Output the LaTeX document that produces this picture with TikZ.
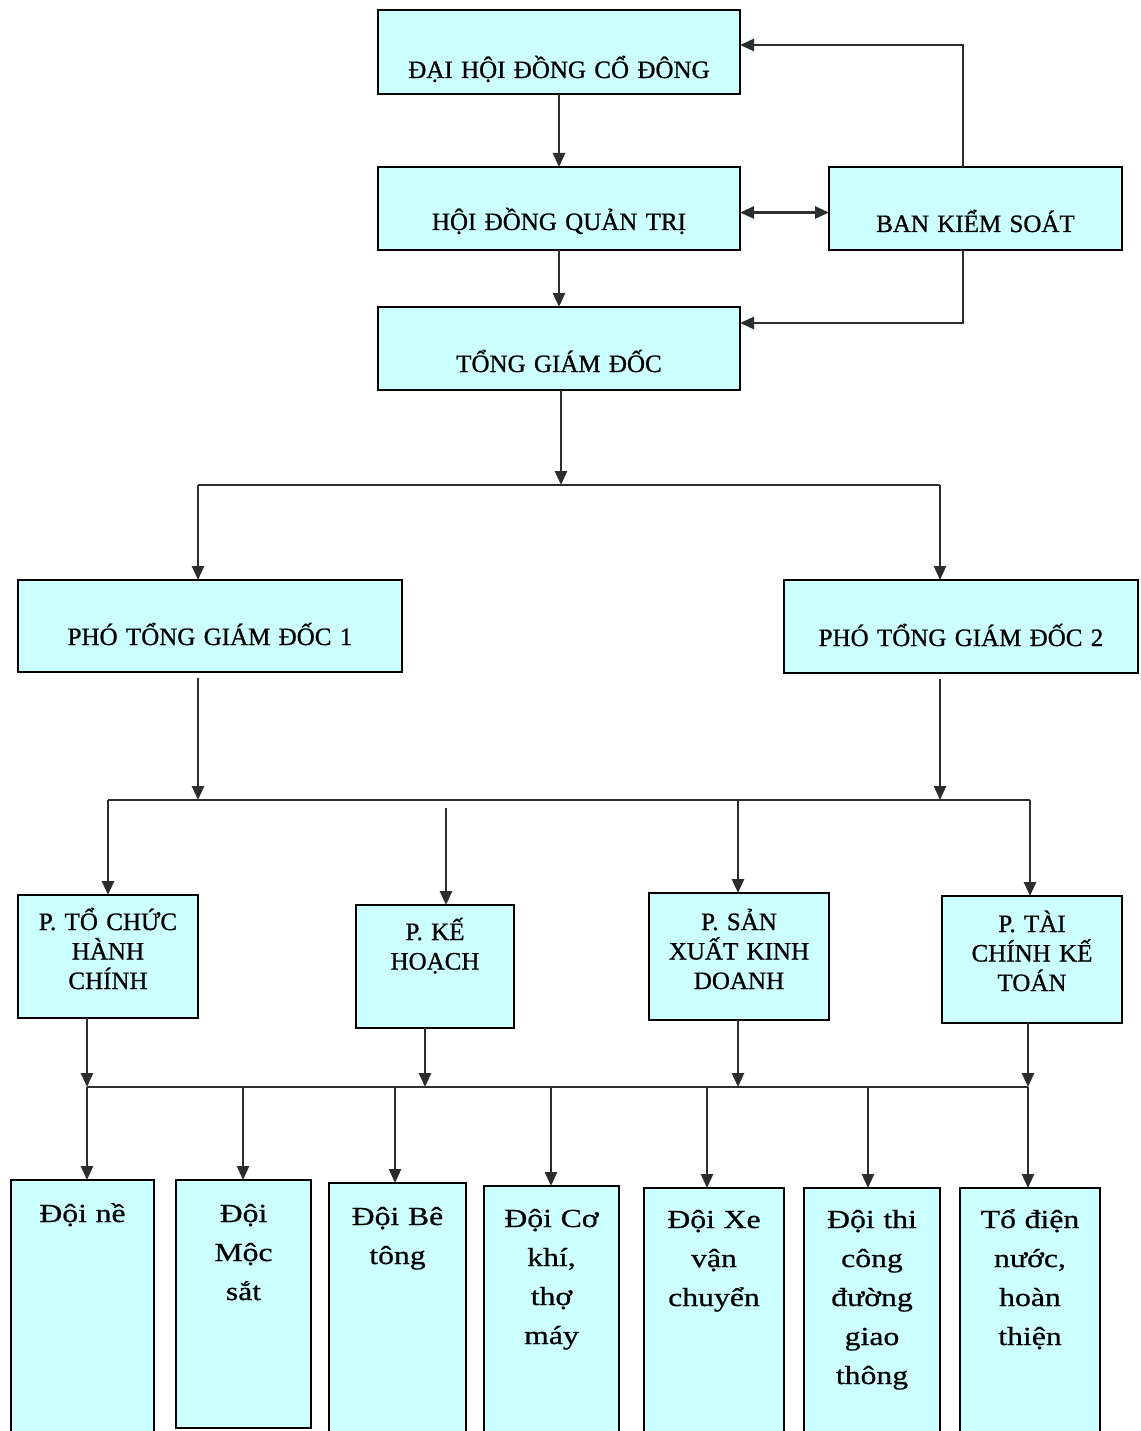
\documentclass[tikz,border=0pt]{standalone}
\usepackage{fontspec}
\setmainfont[FakeBold=0.9]{Liberation Serif}
\newfontfamily\capsserif[FakeBold=0.9]{Liberation Serif}
\newfontfamily\stretchserif[FakeStretch=1.22,FakeBold=0.7]{Liberation Serif}
\usetikzlibrary{arrows.meta}
\definecolor{boxfill}{RGB}{204,255,255}
\definecolor{connc}{RGB}{45,45,45}
\tikzset{
  orgbox/.style={draw=black, line width=2.6pt, fill=boxfill, inner sep=0pt, outer sep=0pt, align=center},
  capsfont/.style={font=\capsserif\fontsize{25}{29.5}\selectfont},
  lowfont/.style={font=\stretchserif\fontsize{26}{39}\selectfont},
  conn/.style={draw=connc, line width=2.6pt},
  arr/.style={conn, -{Triangle[length=14pt,width=12pt]}},
  darr/.style={conn, {Triangle[length=14pt,width=12pt]}-{Triangle[length=14pt,width=12pt]}}
}
% #1 style, #2 name, #3 x1, #4 y1, #5 x2, #6 y2, #7 first baseline, #8 text
\newcommand\orgnode[8]{%
  \pgfmathsetmacro\obw{#5-#3}\pgfmathsetmacro\obh{#7-#4}\pgfmathsetmacro\obd{#6-#7}%
  \node[orgbox,#1,anchor=north west,text width=\obw pt,text height=\obh pt,text depth=\obd pt] (#2) at (#3,-#4) {#8};}
\begin{document}
\begin{tikzpicture}[x=1pt,y=1pt]
\useasboundingbox (0,0) rectangle (1140,-1431);
\clip (0,0) rectangle (1140,-1431);
\fill[white] (0,0) rectangle (1140,-1431);

% top level
\orgnode{capsfont}{dh}{378}{10}{740}{94}{78}{ĐẠI HỘI ĐỒNG CỔ ĐÔNG}
\orgnode{capsfont}{hd}{378}{167}{740}{250}{230}{HỘI ĐỒNG QUẢN TRỊ}
\orgnode{capsfont}{bks}{829}{167}{1122}{250}{232}{BAN KIỂM SOÁT}
\orgnode{capsfont}{tgd}{378}{307}{740}{390}{372}{TỔNG GIÁM ĐỐC}
\orgnode{capsfont}{p1}{18}{580}{402}{672}{645}{PHÓ TỔNG GIÁM ĐỐC 1}
\orgnode{capsfont}{p2}{784}{580}{1138}{673}{646}{PHÓ TỔNG GIÁM ĐỐC 2}

% departments
\orgnode{capsfont}{tc}{18}{895}{198}{1018}{930}{P. TỔ CHỨC\\HÀNH\\CHÍNH}
\orgnode{capsfont}{kh}{356}{905}{514}{1028}{940}{P. KẾ\\HOẠCH}
\orgnode{capsfont}{sx}{649}{893}{829}{1020}{930}{P. SẢN\\XUẤT KINH\\DOANH}
\orgnode{capsfont}{tk}{942}{896}{1122}{1023}{932}{P. TÀI\\CHÍNH KẾ\\TOÁN}

% teams
\orgnode{lowfont}{d1}{11}{1180}{154}{1445}{1222}{Đội nề}
\orgnode{lowfont}{d2}{176}{1180}{311}{1428}{1222}{Đội\\Mộc\\sắt}
\orgnode{lowfont}{d3}{329}{1183}{466}{1445}{1225}{Đội Bê\\tông}
\orgnode{lowfont}{d4}{484}{1186}{619}{1445}{1227}{Đội Cơ\\khí,\\thợ\\máy}
\orgnode{lowfont}{d5}{644}{1188}{784}{1445}{1228}{Đội Xe\\vận\\chuyển}
\orgnode{lowfont}{d6}{804}{1188}{940}{1445}{1228}{Đội thi\\công\\đường\\giao\\thông}
\orgnode{lowfont}{d7}{960}{1188}{1100}{1445}{1228}{Tổ điện\\nước,\\hoàn\\thiện}

% upper connectors
\draw[arr] (dh.south) -- (hd.north);
\draw[arr] (hd.south) -- (tgd.north);
\draw[darr] ([yshift=-4pt]hd.east) -- ([yshift=-4pt]bks.west);
\coordinate (kx) at (963,-45);
\draw[arr] (bks.north -| kx) |- ([yshift=7pt]dh.east);
\draw[arr] (bks.south -| kx) |- ([yshift=25.5pt]tgd.east);

% bus 1
\coordinate (bus1L) at (198,-485);
\coordinate (bus1R) at (940,-485);
\coordinate (tgx) at (561,-485);
\draw[conn] (bus1L) -- (bus1R);
\draw[arr] (tgd.south -| tgx) -- (tgx);
\draw[arr] (bus1L) -- (bus1L |- p1.north);
\draw[arr] (bus1R) -- (bus1R |- p2.north);

% bus 2
\coordinate (bus2L) at (108,-800);
\coordinate (bus2R) at (1030,-800);
\coordinate (khx) at (446,-800);
\coordinate (sxx) at (738,-800);
\draw[conn] (bus2L) -- (bus2R);
\draw[arr] ([yshift=-6pt]p1.south -| bus1L) -- (bus1L |- bus2L);
\draw[arr] ([yshift=-6pt]p2.south -| bus1R) -- (bus1R |- bus2L);
\draw[arr] (bus2L) -- (bus2L |- tc.north);
\draw[arr] ([yshift=-8pt]khx) -- (khx |- kh.north);
\draw[arr] (sxx) -- (sxx |- sx.north);
\draw[arr] (bus2R) -- (bus2R |- tk.north);

% bus 3
\coordinate (bus3L) at (87,-1087);
\coordinate (bus3R) at (1028,-1087);
\coordinate (khs) at (425,-1087);
\coordinate (sxs) at (738,-1087);
\draw[conn] (bus3L) -- (bus3R);
\draw[arr] (bus3L |- tc.south) -- (bus3L);
\draw[arr] (khs |- kh.south) -- (khs);
\draw[arr] (sxs |- sx.south) -- (sxs);
\draw[arr] (bus3R |- tk.south) -- (bus3R);

\coordinate (t2) at (243,-1087);
\coordinate (t3) at (395,-1087);
\coordinate (t4) at (551,-1087);
\coordinate (t5) at (707,-1087);
\coordinate (t6) at (868,-1087);
\draw[arr] (bus3L) -- (bus3L |- d1.north);
\draw[arr] (t2) -- (t2 |- d2.north);
\draw[arr] (t3) -- (t3 |- d3.north);
\draw[arr] (t4) -- (t4 |- d4.north);
\draw[arr] (t5) -- (t5 |- d5.north);
\draw[arr] (t6) -- (t6 |- d6.north);
\draw[arr] (bus3R) -- (bus3R |- d7.north);
\end{tikzpicture}
\end{document}
